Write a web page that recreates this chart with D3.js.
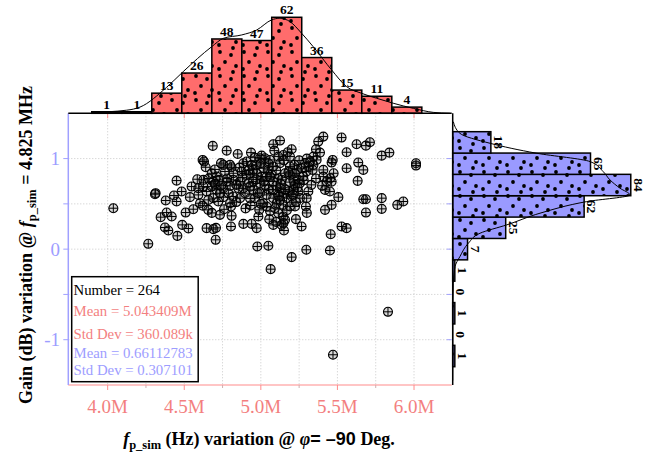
<!DOCTYPE html>
<html>
<head>
<meta charset="utf-8">
<script src="https://cdn.jsdelivr.net/npm/d3@7"></script>
<style>
  body { margin: 0; background: #fff; }
  svg { display: block; font-family: "Liberation Serif", "Times New Roman", serif; }
</style>
</head>
<body>
<svg id="chart" width="659" height="459"></svg>
<script>
// axis ticks (frequency in MHz, gain in dB)
const xTickValues = [4.0, 4.5, 5.0, 5.5, 6.0];
const xTickLabels = ["4.0M", "4.5M", "5.0M", "5.5M", "6.0M"];
const xMinorValues = [4.25, 4.75, 5.25, 5.75];
const yTickValues = [-1, 0, 1];
const yTickLabels = ["-1", "0", "1"];
const yMinorValues = [-0.5, 0.5];

// frequency histogram (top)
const freqBinEdges = [3.896, 4.092, 4.288, 4.484, 4.680, 4.876, 5.071, 5.267, 5.463, 5.659, 5.855, 6.051];
const freqCounts = [1, 1, 13, 26, 48, 47, 62, 36, 15, 11, 4];
const freqCurve = [
  [3.896, 0.6], [4.124, 2], [4.211, 4], [4.385, 16.8], [4.493, 26.9], [4.679, 43],
  [4.755, 48.4], [4.875, 50.6], [4.973, 53.8], [5.070, 60.3], [5.125, 61.4], [5.19, 59.2],
  [5.266, 51.7], [5.342, 43], [5.462, 28], [5.56, 17.2], [5.658, 12.9], [5.756, 9.7],
  [5.864, 6.5], [5.995, 3.2], [6.125, 0.6], [6.234, 0]
];

// gain histogram (right)
const gainBinEdges = [-1.298, -1.062, -0.826, -0.590, -0.354, -0.118, 0.118, 0.354, 0.590, 0.826, 1.061, 1.297];
const gainCounts = [1, 0, 1, 0, 1, 7, 25, 62, 84, 65, 18];
const gainCurve = [
  [1.407, 0.3], [1.279, 3.4], [1.169, 17.6], [1.059, 39.6], [0.967, 64.8], [0.856, 71],
  [0.764, 74.2], [0.673, 78.9], [0.599, 83.6], [0.525, 63.2], [0.397, 41.2], [0.268, 25.5],
  [0.176, 12.9], [0.066, 7.4], [-0.082, 3.4], [-0.192, 1.1], [-0.375, 0.3], [-0.8, 0.05], [-1.45, 0]
];

// scatter samples [frequency MHz, gain dB]
const samples = [
  [4.037,0.452],[4.265,0.059],[4.313,0.618],[4.309,0.607],[4.379,0.537],[4.346,0.353],[4.385,0.404],
  [4.418,0.360],[4.374,0.239],[4.396,0.206],[4.455,0.147],[4.487,0.268],[4.527,0.228],[4.450,0.757],
  [4.433,0.592],[4.450,0.526],[4.483,0.636],[4.509,0.404],[4.548,0.691],[4.537,0.574],[4.559,0.441],
  [4.585,0.772],[4.625,0.765],[4.620,0.985],[4.629,0.967],[4.640,0.904],[4.686,1.140],[4.777,1.088],
  [4.849,1.051],[4.603,0.507],[4.592,0.599],[4.646,0.636],[4.657,0.434],[4.646,0.232],[4.690,0.221],
  [4.707,0.235],[4.705,0.103],[4.733,0.379],[4.805,0.471],[4.809,0.368],[4.805,0.250],[4.886,0.279],
  [4.940,0.279],[4.973,0.232],[4.679,0.838],[4.712,0.801],[4.690,0.746],[4.729,0.765],[4.755,0.930],
  [4.799,0.930],[4.809,0.904],[4.766,0.857],[4.820,0.765],[4.864,0.746],[4.853,0.673],[4.799,0.699],
  [4.755,0.673],[4.712,0.654],[4.690,0.563],[4.755,0.574],[4.820,0.581],[4.864,0.563],[4.897,0.618],
  [4.886,0.949],[4.907,0.967],[4.929,0.838],[4.951,0.875],[4.918,0.728],[4.722,0.526],[4.799,0.507],
  [4.657,0.544],[4.625,0.691],[4.679,0.691],[4.777,0.746],[4.820,0.838],[4.875,0.857],[4.592,0.673],
  [4.788,0.618],[4.886,0.673],[4.733,0.618],[4.936,1.066],[5.005,1.033],[5.081,1.158],[5.125,1.199],
  [5.088,1.088],[5.175,1.070],[5.201,1.103],[4.994,1.004],[5.027,1.004],[5.060,0.985],[5.114,1.022],
  [5.147,1.040],[4.973,0.930],[5.016,0.893],[5.049,0.875],[5.081,0.912],[5.125,0.949],[4.973,0.838],
  [5.005,0.801],[5.038,0.801],[5.070,0.820],[5.114,0.783],[4.994,0.728],[4.951,0.746],[5.027,0.710],
  [5.081,0.746],[5.136,0.765],[5.190,0.820],[5.190,0.912],[5.234,0.875],[5.212,0.765],[5.245,0.765],
  [4.951,0.654],[4.994,0.618],[4.962,0.563],[5.038,0.599],[5.081,0.654],[5.125,0.673],[5.114,0.599],
  [5.147,0.618],[5.179,0.636],[5.201,0.581],[5.168,0.563],[5.125,0.544],[5.081,0.563],[5.103,0.507],
  [5.147,0.489],[5.190,0.471],[5.223,0.471],[5.092,0.452],[5.114,0.397],[5.147,0.360],[5.158,0.324],
  [5.229,0.331],[5.136,0.268],[5.081,0.268],[5.147,0.287],[5.151,0.206],[5.055,0.331],[4.984,0.360],
  [4.990,0.434],[4.934,0.482],[5.016,0.507],[5.038,0.471],[5.266,0.250],[5.294,0.471],[4.977,0.029],
  [5.049,0.037],[5.064,-0.221],[5.201,-0.088],[5.297,-0.007],[5.451,-0.015],[5.212,0.654],[5.245,0.636],
  [5.223,0.710],[5.255,0.563],[5.049,0.949],[4.940,0.930],[4.907,0.820],[5.158,0.838],[5.190,1.022],
  [5.223,0.838],[5.408,1.243],[5.375,1.188],[5.360,1.103],[5.386,1.066],[5.527,1.232],[5.343,1.022],
  [5.364,0.985],[5.321,0.967],[5.288,0.949],[5.310,0.912],[5.343,0.930],[5.266,0.893],[5.299,0.857],
  [5.338,0.875],[5.469,0.985],[5.462,0.956],[5.408,0.875],[5.475,0.838],[5.453,0.783],[5.430,0.746],
  [5.462,0.746],[5.277,0.801],[5.255,0.728],[5.310,0.636],[5.419,0.654],[5.451,0.636],[5.506,0.574],
  [5.462,0.489],[5.419,0.434],[5.299,0.563],[5.456,0.165],[5.527,0.250],[5.560,0.232],[5.560,1.070],
  [5.560,0.893],[5.625,1.158],[5.636,0.956],[5.632,0.754],[5.408,0.801],[5.686,1.143],[5.712,1.180],
  [5.669,0.875],[5.789,1.033],[5.839,1.066],[6.013,0.949],[6.013,0.923],[5.669,0.551],[5.686,0.551],
  [5.789,0.563],[5.686,0.404],[5.789,0.445],[5.891,0.489],[5.930,0.526],[5.830,-0.692],[5.471,-1.166],
  [4.70,0.88],[4.74,0.95],[4.86,0.90],[4.92,0.87],[5.00,0.95],[5.10,0.87],[5.15,0.98],[5.22,0.93],
  [5.25,0.98],[5.30,1.00],[5.18,0.85],[4.96,1.01],[4.66,0.78],[4.70,0.72],[4.74,0.70],[4.78,0.78],
  [4.84,0.71],[4.88,0.79],[4.93,0.69],[4.97,0.77],[5.02,0.75],[5.05,0.66],[5.10,0.70],[5.13,0.72],
  [5.16,0.66],[5.19,0.74],[5.21,0.60],[5.24,0.68],[5.28,0.76],[5.33,0.71],[5.36,0.78],[5.40,0.70],
  [5.06,0.80],[4.98,0.62],[4.62,0.48],[4.68,0.40],[4.76,0.44],[4.84,0.52],[4.90,0.45],[5.00,0.50],
  [5.06,0.42],[5.12,0.58],[5.17,0.43],[5.23,0.52],[5.30,0.40],[4.93,0.56],[5.10,0.30]
];

const legendTexts = [
  "Number = 264",
  "Mean = 5.043409M",
  "Std Dev = 360.089k",
  "Mean = 0.66112783",
  "Std Dev = 0.307101"
];

const redText = "#f37f7f";
const redFill = "#ff6c6c";
const blueText = "#9d9dff";
const blueFill = "#9a9aff";

const svg = d3.select("#chart");

const plot = { left: 68.3, right: 451.7, top: 113.3, bottom: 385 };

const x = d3.scaleLinear().domain([3.743, 6.246]).range([plot.left, plot.right]);
const y = d3.scaleLinear().domain([-1.5, 1.5]).range([plot.bottom, plot.top]);
// histogram count scales
const hTop = d3.scaleLinear().domain([0, 70]).range([plot.top, plot.top - 108.4]);
const hRight = d3.scaleLinear().domain([0, 90]).range([plot.right + 1, plot.right + 1 + 190.8]);

// dot pattern for the bars
const defs = svg.append("defs");
function dotPattern(id, fill) {
  const p = defs.append("pattern")
    .attr("id", id)
    .attr("patternUnits", "userSpaceOnUse")
    .attr("width", 24)
    .attr("height", 24);
  p.append("rect").attr("width", 24).attr("height", 24).attr("fill", fill);
  [[4, 4], [15, 7], [9, 14], [20, 18], [3, 21], [17, 0], [17, 24]].forEach(d => {
    p.append("circle").attr("cx", d[0]).attr("cy", d[1]).attr("r", 1.9).attr("fill", "#000");
  });
}
dotPattern("dotsRed", redFill);
dotPattern("dotsBlue", blueFill);

// grid
const grid = svg.append("g").attr("stroke", "#c8c8c8").attr("stroke-dasharray", "1,2").attr("stroke-width", 1);
xTickValues.concat(xMinorValues).forEach(v => {
  grid.append("line").attr("x1", x(v)).attr("x2", x(v)).attr("y1", plot.top).attr("y2", plot.bottom);
});
yTickValues.concat(yMinorValues).forEach(v => {
  grid.append("line").attr("x1", plot.left).attr("x2", plot.right).attr("y1", y(v)).attr("y2", y(v));
});

// scatter markers
const r = 4.5;
const markers = svg.append("g").selectAll("g")
  .data(samples)
  .join("g")
  .attr("transform", d => `translate(${x(d[0])},${y(d[1])})`);
markers.append("circle")
  .attr("r", r)
  .attr("fill", "rgba(60,60,60,0.2)")
  .attr("stroke", "#000")
  .attr("stroke-width", 1.1);
markers.append("path")
  .attr("d", `M${-r},0H${r}M0,${-r}V${r}`)
  .attr("stroke", "#000")
  .attr("stroke-width", 1);

// legend box
const legend = svg.append("g");
legend.append("rect")
  .attr("x", 71.7).attr("y", 276.7)
  .attr("width", 126.5).attr("height", 105)
  .attr("fill", "#fff").attr("stroke", "#000").attr("stroke-width", 1.5);
const legendColors = ["#000", redText, redText, blueText, blueText];
const legendBaselines = [295, 316, 338.5, 357.5, 374.5];
legend.selectAll("text")
  .data(legendTexts)
  .join("text")
  .attr("x", 73.5)
  .attr("y", (d, i) => legendBaselines[i])
  .attr("font-size", 14.8)
  .attr("fill", (d, i) => legendColors[i])
  .text(d => d);

// axes: bottom (red), left (blue)
const axisG = svg.append("g");
axisG.append("line").attr("x1", plot.left).attr("x2", plot.right).attr("y1", plot.bottom).attr("y2", plot.bottom)
  .attr("stroke", "#ff8c8c").attr("stroke-width", 1.2);
xTickValues.forEach(v => {
  axisG.append("line").attr("x1", x(v)).attr("x2", x(v)).attr("y1", plot.bottom).attr("y2", plot.bottom + 5)
    .attr("stroke", "#ff8c8c");
  axisG.append("line").attr("x1", x(v)).attr("x2", x(v)).attr("y1", plot.top).attr("y2", plot.top + 5)
    .attr("stroke", "#ff8c8c");
});
xMinorValues.forEach(v => {
  axisG.append("line").attr("x1", x(v)).attr("x2", x(v)).attr("y1", plot.bottom).attr("y2", plot.bottom + 3)
    .attr("stroke", "#d0b0b0");
});
axisG.selectAll("text.xt")
  .data(xTickValues)
  .join("text")
  .attr("class", "xt")
  .attr("x", d => x(d))
  .attr("y", 413)
  .attr("text-anchor", "middle")
  .attr("font-size", 19)
  .attr("fill", redText)
  .text((d, i) => xTickLabels[i]);

axisG.append("line").attr("x1", plot.left).attr("x2", plot.left).attr("y1", plot.top).attr("y2", plot.bottom)
  .attr("stroke", "#a0a0ff").attr("stroke-width", 1.5);
yTickValues.concat(yMinorValues).forEach(v => {
  axisG.append("line").attr("x1", plot.left - 5).attr("x2", plot.left).attr("y1", y(v)).attr("y2", y(v))
    .attr("stroke", "#a0a0ff");
  axisG.append("line").attr("x1", plot.right - 5).attr("x2", plot.right).attr("y1", y(v)).attr("y2", y(v))
    .attr("stroke", "#a0a0ff");
});
axisG.selectAll("text.yt")
  .data(yTickValues)
  .join("text")
  .attr("class", "yt")
  .attr("x", 60)
  .attr("y", d => y(d) + 6.5)
  .attr("text-anchor", "end")
  .attr("font-size", 19)
  .attr("fill", blueText)
  .text((d, i) => yTickLabels[i]);

// top histogram
const topHist = svg.append("g");
topHist.selectAll("rect")
  .data(freqCounts)
  .join("rect")
  .attr("x", (d, i) => x(freqBinEdges[i]))
  .attr("width", (d, i) => x(freqBinEdges[i + 1]) - x(freqBinEdges[i]))
  .attr("y", d => hTop(d))
  .attr("height", d => hTop(0) - hTop(d))
  .attr("fill", "url(#dotsRed)")
  .attr("stroke", "#000")
  .attr("stroke-width", 1.5);
topHist.append("line")
  .attr("x1", plot.left).attr("x2", plot.right).attr("y1", plot.top).attr("y2", plot.top)
  .attr("stroke", "#000").attr("stroke-width", 1.5);
topHist.append("path")
  .datum(freqCurve)
  .attr("fill", "none")
  .attr("stroke", "#000")
  .attr("stroke-width", 1)
  .attr("d", d3.line().x(d => x(d[0])).y(d => hTop(d[1])).curve(d3.curveMonotoneX));
topHist.selectAll("text")
  .data(freqCounts)
  .join("text")
  .attr("x", (d, i) => (x(freqBinEdges[i]) + x(freqBinEdges[i + 1])) / 2)
  .attr("y", d => hTop(d) - 3)
  .attr("text-anchor", "middle")
  .attr("font-size", 13.5)
  .attr("font-weight", "bold")
  .text(d => d);

// right histogram
const rightHist = svg.append("g");
rightHist.selectAll("rect")
  .data(gainCounts)
  .join("rect")
  .attr("x", hRight(0))
  .attr("y", (d, i) => y(gainBinEdges[i + 1]))
  .attr("width", d => hRight(d) - hRight(0))
  .attr("height", (d, i) => y(gainBinEdges[i]) - y(gainBinEdges[i + 1]))
  .attr("fill", "url(#dotsBlue)")
  .attr("stroke", "#000")
  .attr("stroke-width", 1.5);
rightHist.append("line")
  .attr("x1", hRight(0)).attr("x2", hRight(0)).attr("y1", plot.top).attr("y2", plot.bottom)
  .attr("stroke", "#000").attr("stroke-width", 1.5);
rightHist.append("path")
  .datum(gainCurve)
  .attr("fill", "none")
  .attr("stroke", "#000")
  .attr("stroke-width", 1)
  .attr("d", d3.line().x(d => hRight(d[1])).y(d => y(d[0])).curve(d3.curveMonotoneY));
rightHist.selectAll("text")
  .data(gainCounts)
  .join("text")
  .attr("transform", (d, i) => `translate(${hRight(d) + 3},${(y(gainBinEdges[i]) + y(gainBinEdges[i + 1])) / 2}) rotate(90)`)
  .attr("text-anchor", "middle")
  .attr("font-size", 13.5)
  .attr("font-weight", "bold")
  .text(d => d);

// axis titles
const xTitle = svg.append("text")
  .attr("x", 259)
  .attr("y", 445)
  .attr("text-anchor", "middle")
  .attr("font-size", 18)
  .attr("font-weight", "bold");
xTitle.append("tspan").attr("font-style", "italic").text("f");
xTitle.append("tspan").attr("font-size", 12.5).attr("dy", 4).text("p_sim");
xTitle.append("tspan").attr("dy", -4).text(" (Hz) variation @ ");
xTitle.append("tspan").attr("font-style", "italic").text("φ");
xTitle.append("tspan").attr("font-family", "Liberation Sans, Arial, sans-serif").text("= –90");
xTitle.append("tspan").text(" Deg.");

const yTitle = svg.append("text")
  .attr("transform", "translate(32,245) rotate(-90)")
  .attr("text-anchor", "middle")
  .attr("font-size", 18)
  .attr("font-weight", "bold");
yTitle.append("tspan").text("Gain (dB) variation @ ");
yTitle.append("tspan").attr("font-style", "italic").text("f");
yTitle.append("tspan").attr("font-size", 12.5).attr("dy", 4).text("p_sim");
yTitle.append("tspan").attr("dy", -4).text(" = 4.825 MHz");
</script>
</body>
</html>
